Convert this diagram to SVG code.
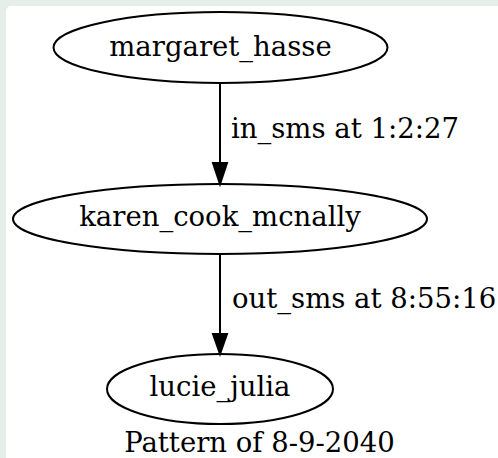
<svg xmlns="http://www.w3.org/2000/svg" width="498" height="458" viewBox="0 0 498 458">
<style>
text { font-family: "DejaVu Serif", serif; font-size: 27.5px; fill: #000; }
.node ellipse { fill: none; stroke: #000; stroke-width: 2; }
.edge line { stroke: #000; stroke-width: 2; }
.edge polygon { fill: #000; stroke: #000; stroke-width: 2; }
</style>
<rect x="0" y="0" width="498" height="458" fill="#e5eee8"/>
<rect x="6" y="6" width="500" height="470" rx="5" fill="#ffffff"/>
<g id="margaret_hasse" class="node">
<ellipse cx="220.5" cy="47.5" rx="167" ry="35.5"/>
<text x="220.5" y="55.5" text-anchor="middle">margaret_hasse</text>
</g>
<g id="karen_cook_mcnally" class="node">
<ellipse cx="220" cy="219" rx="207" ry="35"/>
<text x="220" y="226" text-anchor="middle">karen_cook_mcnally</text>
</g>
<g id="lucie_julia" class="node">
<ellipse cx="220" cy="389" rx="113" ry="35"/>
<text x="220" y="395.5" text-anchor="middle">lucie_julia</text>
</g>
<g id="connectors" class="edge">
<g id="e1">
<line x1="220" y1="83" x2="220" y2="163"/>
<polygon points="213,163 227,163 220,184"/>
<text x="231" y="138">in_sms at 1:2:27</text>
</g>
<g id="e2">
<line x1="220" y1="254" x2="220" y2="334"/>
<polygon points="213,334 227,334 220,354"/>
<text x="232" y="308">out_sms at 8:55:16</text>
</g>
</g>
<text id="graph-label" x="259.5" y="452" text-anchor="middle">Pattern of 8-9-2040</text>
</svg>
